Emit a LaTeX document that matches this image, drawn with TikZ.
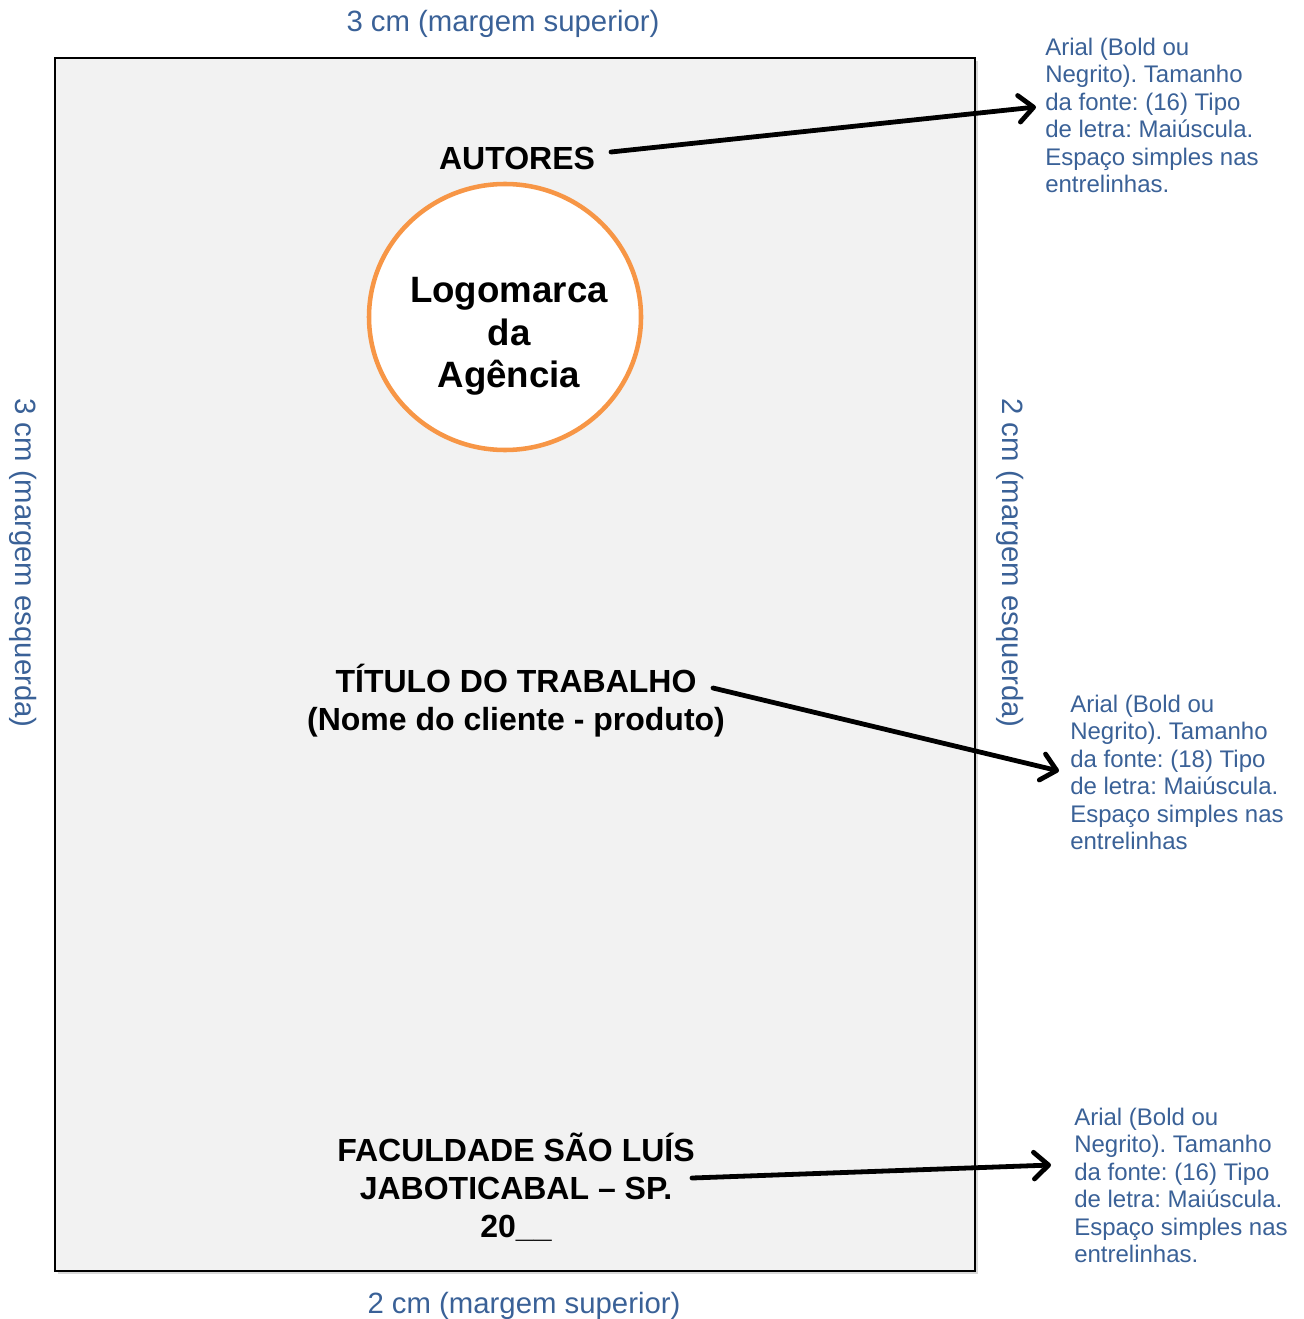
\documentclass[tikz,border=0pt]{standalone}
\usepackage{fontspec}
\setmainfont{Liberation Sans}
\frenchspacing
\usetikzlibrary{arrows.meta,shadows,shapes.geometric}
\definecolor{noteblue}{HTML}{3A6197}
\definecolor{pagegray}{HTML}{F2F2F2}
\definecolor{logoorange}{HTML}{F79646}
\begin{document}
\begin{tikzpicture}[x=0.75pt,y=-0.75pt,
  marginlabel/.style={text=noteblue, font=\fontsize{22}{26}\selectfont, inner sep=0pt},
  notetext/.style={text=noteblue, font=\fontsize{18}{20.6}\selectfont, align=left, anchor=base west, inner sep=0pt},
  heading/.style={font=\bfseries\fontsize{24}{28.2}\selectfont, align=center, anchor=base, inner sep=0pt},
  pointer/.style={line width=3.6pt, line cap=round, line join=round,
    -{Straight Barb[length=11pt,width=20pt,line cap=round,line join=round]}}]
\useasboundingbox (0,0) rectangle (1303,1319);
% page
\node[draw, line width=1.5pt, fill=pagegray, minimum width=690pt, minimum height=909.75pt,
  inner sep=0pt, drop shadow={shadow xshift=2pt, shadow yshift=-2pt, fill=black!30}]
  (page) at (515,664.5) {};
% margin labels
\node[marginlabel, anchor=base] (top) at (503,32) {3 cm (margem superior)};
\node[marginlabel, anchor=base] (bottom) at (524,1313) {2 cm (margem superior)};
\node[marginlabel, rotate=-90] (left) at (23.5,563) {3 cm (margem esquerda)};
\node[marginlabel, rotate=-90] (right) at (1010,563) {2 cm (margem esquerda)};
% logo
\node[ellipse, draw=logoorange, line width=3.4pt, fill=white, minimum width=204pt,
  minimum height=199.5pt, inner sep=0pt] (logo) at (505,317) {};
\node[font=\bfseries\fontsize{27.5}{31.5}\selectfont, align=center, anchor=base, inner sep=0pt]
  (logotext) at (509,387) {Logomarca\\da\\Agência};
% headings
\node[heading] (autores) at (517,170) {AUTORES};
\node[heading, font=\bfseries\fontsize{24}{28.5}\selectfont] (titulo) at (516,730.5) {TÍTULO DO TRABALHO\\(Nome do cliente - produto)};
\node[heading] (faculdade) at (516,1237) {FACULDADE SÃO LUÍS\\JABOTICABAL – SP.\\20\_\_};
% notes
\node[notetext] (note1) at (1045,192.5) {Arial (Bold ou\\Negrito). Tamanho\\da fonte: (16) Tipo\\de letra: Maiúscula.\\Espaço simples nas\\entrelinhas.};
\node[notetext] (note2) at (1070,849.5) {Arial (Bold ou\\Negrito). Tamanho\\da fonte: (18) Tipo\\de letra: Maiúscula.\\Espaço simples nas\\entrelinhas};
\node[notetext] (note3) at (1074,1262.5) {Arial (Bold ou\\Negrito). Tamanho\\da fonte: (16) Tipo\\de letra: Maiúscula.\\Espaço simples nas\\entrelinhas.};
% arrows
\coordinate (a1s) at (611,152);
\coordinate (a1e) at (1036,107);
\coordinate (a2s) at (713,688);
\coordinate (a2e) at (1059,771);
\coordinate (a3s) at (692,1178);
\coordinate (a3e) at (1051,1165);
\draw[pointer] (a1s) -- (a1e);
\draw[pointer] (a2s) -- (a2e);
\draw[pointer] (a3s) -- (a3e);
\end{tikzpicture}
\end{document}
